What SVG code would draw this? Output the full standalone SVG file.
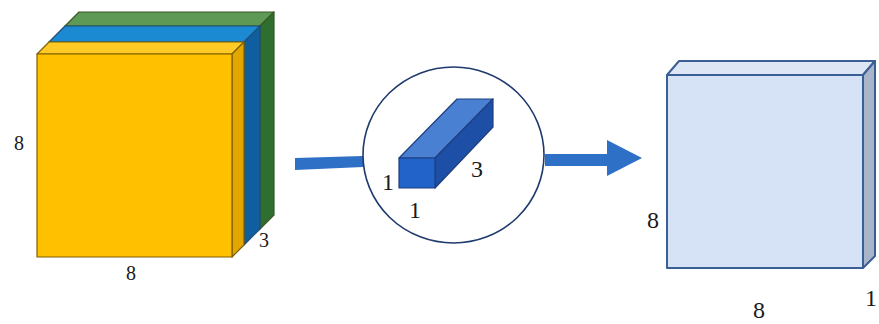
<svg xmlns="http://www.w3.org/2000/svg" width="879" height="324" viewBox="0 0 879 324">
<style>
.t{font-family:"Liberation Serif","Times New Roman",serif;fill:#1a1a1a;}
.ys{stroke:#7F6000;stroke-width:1.2;stroke-linejoin:round}
.bs{stroke:#1F4E79;stroke-width:1.2;stroke-linejoin:round}
.gs{stroke:#385723;stroke-width:1.2;stroke-linejoin:round}
.cs{stroke:#1F3F80;stroke-width:1.2;stroke-linejoin:round}
.rs{stroke:#3A5F95;stroke-width:2;stroke-linejoin:round}
</style>
<g id="input-volume">
  <g id="green-layer" class="gs">
    <polygon points="65,26 79,12 274,12 260,26" fill="#5E9A55"/>
    <polygon points="260,26 274,12 274,215 260,229" fill="#2E6E2E"/>
  </g>
  <g id="blue-layer" class="bs">
    <polygon points="49,42 65,26 260,26 244,42" fill="#1B8AD3"/>
    <polygon points="244,42 260,26 260,229 244,245" fill="#0E5EA0"/>
  </g>
  <g id="yellow-layer" class="ys">
    <polygon points="37,54 49,42 244,42 232,54" fill="#FFC926"/>
    <polygon points="232,54 244,42 244,245 232,257" fill="#E3A600"/>
    <rect x="37" y="54" width="195" height="203" fill="#FFC000"/>
  </g>
  <text class="t" x="19" y="150" font-size="20" text-anchor="middle">8</text>
  <text class="t" x="131" y="280" font-size="20" text-anchor="middle">8</text>
  <text class="t" x="264" y="247" font-size="20" text-anchor="middle">3</text>
</g>
<g id="connectors">
  <polygon points="295,158 363,156 363,167 295,170" fill="#2E70C6"/>
  <rect x="545" y="154" width="64" height="12" fill="#2E70C6"/>
  <polygon points="607,140 642,158 607,176" fill="#2E70C6"/>
</g>
<g id="filter">
  <ellipse cx="453.5" cy="155" rx="90.5" ry="88" fill="#FFFFFF" stroke="#1F3A6E" stroke-width="1.6"/>
  <g class="cs">
    <polygon points="399,158 457,99 493,99 435,158" fill="#4A80D2"/>
    <polygon points="435,158 493,99 493,127 435,188" fill="#1D4FA6"/>
    <rect x="399" y="158" width="36" height="30" fill="#2263C9"/>
  </g>
  <text class="t" x="388" y="190" font-size="24" text-anchor="middle">1</text>
  <text class="t" x="415" y="218" font-size="24" text-anchor="middle">1</text>
  <text class="t" x="477" y="177" font-size="24" text-anchor="middle">3</text>
</g>
<g id="output-map">
  <g class="rs">
    <polygon points="667,75 679,61 875,61 863,75" fill="#DCE6F5"/>
    <polygon points="863,75 875,61 875,256 863,268" fill="#A9B5CA"/>
    <rect x="667" y="75" width="196" height="193" fill="#D6E2F5"/>
  </g>
  <text class="t" x="653" y="228" font-size="24" text-anchor="middle">8</text>
  <text class="t" x="759" y="318" font-size="24" text-anchor="middle">8</text>
  <text class="t" x="871" y="306" font-size="24" text-anchor="middle">1</text>
</g>
</svg>
